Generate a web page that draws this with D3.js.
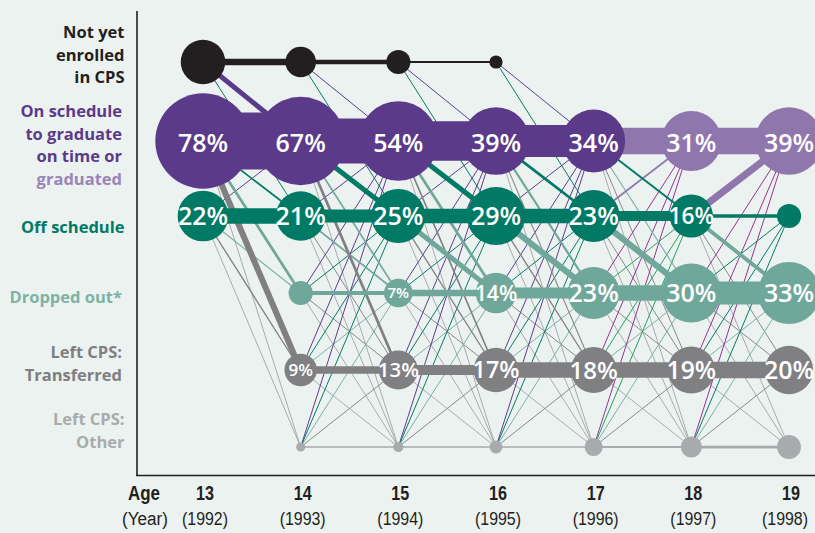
<!DOCTYPE html>
<html><head><meta charset="utf-8">
<script src="https://cdn.jsdelivr.net/npm/d3@7"></script>
<style>
html,body{margin:0;padding:0;background:#ecf2f0;}
svg{display:block;}
</style></head><body>
<svg id="chart" width="815" height="533"></svg>
<script>
// ---------- DATA ----------
const ages = [13, 14, 15, 16, 17, 18, 19];
const years = ["(1992)", "(1993)", "(1994)", "(1995)", "(1996)", "(1997)", "(1998)"];
const states = ["N", "O", "F", "D", "T", "X"];

// node sizes (percent) per age; null = no node
const notYet      = [17, 8, 5, 1.5, null, null, null];
const onSchedule  = [78, 67, 54, 39, 34, 31, 39];
const offSchedule = [22, 21, 25, 29, 23, 16, 5];
const dropped     = [null, 5, 7, 14, 23, 30, 33];
const transferred = [null, 9, 13, 17, 18, 19, 20];
const otherLeft   = [null, 0.7, 0.9, 1.4, 2.8, 3.8, 4.9];

// printed labels inside nodes
const onLabels   = ["78%", "67%", "54%", "39%", "34%", "31%", "39%"];
const offLabels  = ["22%", "21%", "25%", "29%", "23%", "16%", ""];
const dropLabels = ["", "", "7%", "14%", "23%", "30%", "33%"];
const tranLabels = ["", "9%", "13%", "17%", "18%", "19%", "20%"];

// flows between consecutive ages: [from, to, percent]
const flows13to14 = [
  ["N","N",6],["N","O",4.5],["N","F",0.9],
  ["O","O",52],["O","F",1.5],["O","D",2.5],["O","T",5.5],["O","X",0.9],["O","T",0.9],
  ["F","O",0.9],["F","F",14],["F","D",1],["F","T",1.2],["F","X",0.9]
];
const flows14to15 = [
  ["N","N",4],["N","O",0.9],["N","F",0.9],
  ["O","O",41],["O","F",4.5],["O","D",1.5],["O","T",2.5],["O","X",0.9],
  ["F","O",0.9],["F","F",12],["F","D",1.5],["F","T",0.9],["F","X",0.9],
  ["D","O",0.9],["D","F",0.9],["D","D",3.5],["D","T",0.9],["D","X",0.9],
  ["T","O",0.9],["T","F",0.9],["T","D",0.9],["T","T",7],["T","X",0.9],
  ["X","O",0.9],["X","F",0.9],["X","D",0.9],["X","T",0.9],["X","X",1.5]
];
const flows15to16 = [
  ["N","N",1.8],["N","O",0.9],["N","F",0.9],
  ["O","O",36],["O","F",4.5],["O","D",2.5],["O","T",1.5],["O","X",0.9],
  ["F","O",0.9],["F","F",13],["F","D",4.5],["F","T",1.2],["F","X",0.9],
  ["D","O",0.9],["D","F",0.9],["D","D",6],["D","T",0.9],["D","X",0.9],
  ["T","O",0.9],["T","F",0.9],["T","D",0.9],["T","T",9],["T","X",0.9],
  ["X","O",0.9],["X","F",0.9],["X","D",0.9],["X","T",0.9],["X","X",1.5]
];
const flows16to17 = [
  ["N","O",0.9],["N","F",0.9],
  ["O","O",29],["O","F",2.5],["O","D",2],["O","T",1],["O","X",0.9],
  ["F","O",0.9],["F","F",13],["F","D",5.5],["F","T",1.2],["F","X",0.9],
  ["D","O",0.9],["D","F",0.9],["D","D",10],["D","T",0.9],["D","X",0.9],
  ["T","O",0.9],["T","F",0.9],["T","D",0.9],["T","T",14],["T","X",0.9],
  ["X","O",0.9],["X","F",0.9],["X","D",0.9],["X","T",0.9],["X","X",1.5]
];
const flows17to18 = [
  ["O","O",24],["O","F",1.8],["O","D",1],["O","T",0.9],["O","X",0.9],
  ["F","O",1.5],["F","F",9],["F","D",5.5],["F","T",0.9],["F","X",0.9],
  ["D","O",0.9],["D","F",0.9],["D","D",14],["D","T",0.9],["D","X",0.9],
  ["T","O",0.9],["T","F",0.9],["T","D",0.9],["T","T",14],["T","X",0.9],
  ["X","O",0.9],["X","F",0.9],["X","D",0.9],["X","T",0.9],["X","X",1.8]
];
const flows18to19 = [
  ["O","O",24],
  ["F","O",6.5],["F","F",3],["F","D",3.5],["F","T",0.9],["F","X",0.9],
  ["D","O",0.9],["D","F",0.9],["D","D",21],["D","T",0.9],["D","X",0.9],
  ["T","O",0.9],["T","F",0.9],["T","D",0.9],["T","T",15],["T","X",0.9],
  ["X","O",0.9],["X","F",0.9],["X","D",0.9],["X","T",0.9],["X","X",2.5]
];
const transitions = [flows13to14, flows14to15, flows15to16, flows16to17, flows17to18, flows18to19];

// row labels
const rowLabelLines = [
  ["Not yet", "enrolled", "in CPS"],
  ["On schedule", "to graduate", "on time or", "graduated"],
  ["Off schedule"],
  ["Dropped out*"],
  ["Left CPS:", "Transferred"],
  ["Left CPS:", "Other"]
];

// ---------- STYLE ----------
const C = {
  N: "#231f20", O: "#5c3a8a", G: "#8f76ad", F: "#007a65",
  D: "#6fa89a", T: "#808083", X: "#a9aaad",
  magenta: "#93328e", green: "#23a05a", tThin: "#88888b", xThin: "#a8a9ac", dThin: "#78b0a3"
};
const labelColors = [
  ["#231f20","#231f20","#231f20"],
  ["#5c3a8a","#5c3a8a","#5c3a8a","#9a84b8"],
  ["#007a65"],
  ["#7db3a6"],
  ["#7f7f82","#7f7f82"],
  ["#a9abad","#a9abad"]
];
const rowLabelTops = { N: 38, O: 117, F: 233, D: 303, T: 358, X: 425 };

const svg = d3.select("#chart");
const W = 815, H = 533;
svg.append("rect").attr("width", W).attr("height", H).attr("fill", "#ecf2f0");

const x = d3.scaleLinear().domain([13, 19]).range([203, 789]);
const y = d3.scalePoint().domain(states).range([62, 447]);
const rScale = d3.scaleSqrt().domain([0, 100]).range([0, 54]);
const wScale = d3.scaleLinear().domain([0, 10]).range([0, 11]);

const sizeBy = { N: notYet, O: onSchedule, F: offSchedule, D: dropped, T: transferred, X: otherLeft };
const labelBy = { O: onLabels, F: offLabels, D: dropLabels, T: tranLabels };
const yOff = { O: 2 };

function nodeColor(s, i) {
  if (s === "O" && ages[i] >= 18) return C.G;
  return C[s];
}
function linkColor(from, to, i, v) {
  const a = ages[i + 1];
  if (to === "O" && a >= 18) return v < 1.2 && from !== "F" ? C.magenta : C.G;
  if (to === "F" && a === 18 && v < 1.2 && from !== "O") return C.green;
  if (v < 1.2) {
    if (to === "T") return C.tThin;
    if (to === "X") return C.xThin;
    if (to === "D") return C.dThin;
  }
  return C[to];
}
const ny = s => y(s) + (yOff[s] || 0);

// ---------- AXES ----------
svg.append("line").attr("x1", 137).attr("x2", 137).attr("y1", 11).attr("y2", 476)
  .attr("stroke", "#231f20").attr("stroke-width", 1.6);
svg.append("line").attr("x1", 136.2).attr("x2", W).attr("y1", 475.5).attr("y2", 475.5)
  .attr("stroke", "#231f20").attr("stroke-width", 1.6);

// ---------- LINKS ----------
const links = [];
transitions.forEach((fl, i) => {
  fl.forEach(([f, t, v]) => {
    links.push({ i, f, t, v });
  });
});
links.sort((a, b) => a.v - b.v);
svg.append("g").selectAll("line").data(links).join("line")
  .attr("x1", d => x(ages[d.i])).attr("y1", d => ny(d.f))
  .attr("x2", d => x(ages[d.i + 1])).attr("y2", d => ny(d.t))
  .attr("stroke", d => linkColor(d.f, d.t, d.i, d.v))
  .attr("stroke-width", d => wScale(d.v));

// ---------- NODES ----------
const nodes = [];
states.forEach(s => {
  sizeBy[s].forEach((v, i) => {
    if (v != null) nodes.push({ s, i, v, label: labelBy[s] ? labelBy[s][i] : "" });
  });
});
const ng = svg.append("g");
ng.selectAll("circle").data(nodes).join("circle")
  .attr("cx", d => x(ages[d.i])).attr("cy", d => ny(d.s))
  .attr("r", d => rScale(d.v)).attr("fill", d => nodeColor(d.s, d.i));
ng.selectAll("text").data(nodes.filter(d => d.label)).join("text")
  .attr("x", d => x(ages[d.i])).attr("y", d => ny(d.s) + (d.s === "O" ? 2 : 0))
  .attr("dy", "0.36em").attr("text-anchor", "middle")
  .attr("fill", "#ffffff").attr("font-family", "'Open Sans', sans-serif").attr("font-weight", 600)
  .attr("font-size", d => Math.min(25, rScale(d.v) * 1.05))
  .text(d => d.label);

// ---------- ROW LABELS ----------
const lg = svg.append("g").attr("font-family", "'Open Sans', sans-serif").attr("font-weight", 700)
  .attr("font-size", 16.5).attr("text-anchor", "end");
states.forEach((s, k) => {
  rowLabelLines[k].forEach((line, j) => {
    lg.append("text").attr("x", s === "N" || s === "F" || s === "X" ? 124.5 : 122)
      .attr("y", rowLabelTops[s] + j * 22.5)
      .attr("fill", labelColors[k][j]).text(line);
  });
});

// ---------- X AXIS LABELS (condensed) ----------
const ax = svg.append("g").attr("text-anchor", "middle")
  .attr("font-family", "'Liberation Sans', Arial, sans-serif")
  .attr("fill", "#231f20");
ax.append("text").attr("x", 144).attr("y", 500).attr("font-size", 20).attr("font-weight", 700)
  .attr("textLength", 32).attr("lengthAdjust", "spacingAndGlyphs").text("Age");
ax.append("text").attr("x", 145).attr("y", 525).attr("font-size", 18)
  .attr("textLength", 46).attr("lengthAdjust", "spacingAndGlyphs").text("(Year)");
ax.selectAll("text.age").data(ages).join("text").attr("class", "age")
  .attr("x", d => x(d) + 2).attr("y", 500).attr("font-size", 20).attr("font-weight", 700)
  .attr("textLength", 18).attr("lengthAdjust", "spacingAndGlyphs").text(d => d);
ax.selectAll("text.yr").data(years).join("text").attr("class", "yr")
  .attr("x", (d, i) => Math.min(x(ages[i]) + 2, W - 30)).attr("y", 525)
  .attr("font-size", 18)
  .attr("textLength", 46).attr("lengthAdjust", "spacingAndGlyphs").text(d => d);
</script>
</body></html>
